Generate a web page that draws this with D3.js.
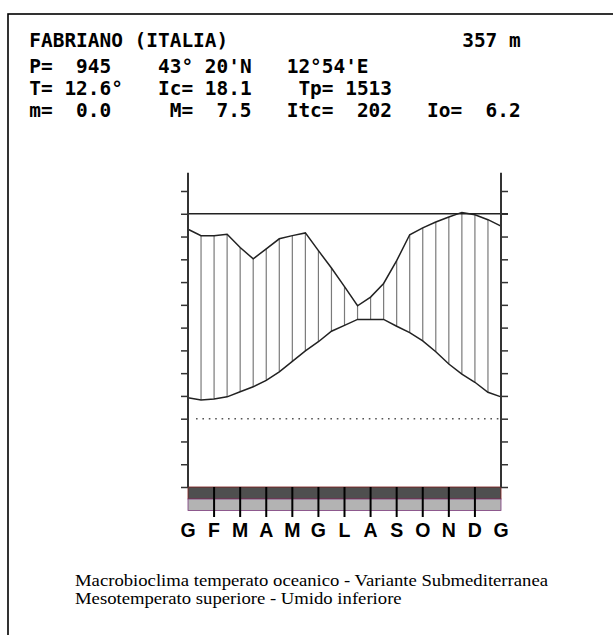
<!DOCTYPE html>
<html><head><meta charset="utf-8">
<script src="https://cdn.jsdelivr.net/npm/d3@7"></script>
<style>html,body{margin:0;padding:0;background:#fff}svg{display:block}</style>
</head><body>
<script>
// ---- data ----
const monthLabels = ["G","F","M","A","M","G","L","A","S","O","N","D","G"];
const monthTicks = [1,2,3,4,5,6,7,8,9,10,11];
// half-month sampling positions (months from start of January)
const halfMonths = [0,0.5,1,1.5,2,2.5,3,3.5,4,4.5,5,5.5,6,6.5,7,7.5,8,8.5,9,9.5,10,10.5,11,11.5,12];
// temperature curve (°C)
const temperature = [4.6,4.1,4.3,4.8,5.9,7.0,8.4,10.3,12.6,14.9,16.9,19.2,20.5,21.8,21.8,21.8,20.3,18.9,17.1,14.7,12.0,9.8,8.0,5.8,4.8];
// precipitation curve (mm, plotted at P = 2T)
const precipitation = [83.2,80.4,80.4,81.0,75.2,70.2,74.6,79.0,80.4,81.6,73.8,66.2,58.0,49.6,53.4,59.4,69.4,80.8,83.8,86.4,88.6,90.6,89.6,87.4,84.6];
const yTicks = [-15,-10,-5,0,5,10,15,20,25,30,35,40,45,50];
const refLine = 45;
const zeroLine = 0;
const axisTopValue = 54;
const headerRows = [
  [[0,"FABRIANO (ITALIA)"],[37,"357 m"]],
  [[0,"P=  945"],[11,"43° 20'N"],[22,"12°54'E"]],
  [[0,"T= 12.6°"],[11,"Ic= 18.1"],[23,"Tp= 1513"]],
  [[0,"m=  0.0"],[12,"M=  7.5"],[22,"Itc=  202"],[34,"Io=  6.2"]]
];
const footerLines = ["Macrobioclima temperato oceanico - Variante Submediterranea","Mesotemperato superiore - Umido inferiore"];

// ---- drawing ----
const W = 613, H = 635;
const svg = d3.select("body").append("svg").attr("width", W).attr("height", H);

// frame (top/left visible)
svg.append("rect").attr("x", 8).attr("y", 14).attr("width", 640).attr("height", 660)
  .attr("fill", "none").attr("stroke", "#000").attr("stroke-width", 1.6);

// header
const headerBase = [46.5, 73.3, 95, 116.7];
const colW = 11.7, x0 = 29.3;
headerRows.forEach((row, i) => {
  row.forEach(([col, txt]) => {
    svg.append("text").attr("x", x0 + col * colW).attr("y", headerBase[i])
      .attr("font-family", "'DejaVu Sans Mono', 'Liberation Mono', monospace")
      .attr("font-weight", "bold").attr("font-size", 19.4)
      .attr("textLength", txt.length * colW).attr("lengthAdjust", "spacingAndGlyphs")
      .style("white-space", "pre").text(txt);
  });
});

const x = d3.scaleLinear().domain([0, 12]).range([188, 501]);
const yT = d3.scaleLinear().domain([-15, 50]).range([487, 191]);
const yP = d3.scaleLinear().domain([-30, 100]).range([487, 191]);

// bands
svg.append("rect").attr("x", x(0)).attr("y", 487).attr("width", x(12) - x(0)).attr("height", 12)
  .attr("fill", "#4f4f4f").attr("stroke", "#7a1a1a").attr("stroke-width", 0.8);
svg.append("rect").attr("x", x(0)).attr("y", 499).attr("width", x(12) - x(0)).attr("height", 11.5)
  .attr("fill", "#b3b3b3").attr("stroke", "#7a3a7a").attr("stroke-width", 0.8);

// month ticks
svg.selectAll("line.mt").data(monthTicks).enter().append("line")
  .attr("x1", d => x(d)).attr("x2", d => x(d)).attr("y1", 487).attr("y2", 517)
  .attr("stroke", "#000").attr("stroke-width", 2);

// month labels
svg.selectAll("text.ml").data(monthLabels).enter().append("text")
  .attr("x", (d, i) => x(i)).attr("y", 536.5).attr("text-anchor", "middle")
  .attr("font-family", "'Liberation Sans', Arial, sans-serif").attr("font-weight", "bold")
  .attr("font-size", 19.5).text(d => d);

// hatching between curves
const hatchIdx = d3.range(1, halfMonths.length - 1);
svg.selectAll("line.h").data(hatchIdx).enter().append("line")
  .attr("x1", i => x(halfMonths[i])).attr("x2", i => x(halfMonths[i]))
  .attr("y1", i => yP(precipitation[i])).attr("y2", i => yT(temperature[i]))
  .attr("stroke", "#7a7a7a").attr("stroke-width", 1.2);

// reference line and zero line
svg.append("line").attr("x1", x(0)).attr("x2", x(12) + 7).attr("y1", yT(refLine)).attr("y2", yT(refLine))
  .attr("stroke", "#222").attr("stroke-width", 1.5);
svg.append("line").attr("x1", x(0) + 8).attr("x2", x(12) - 2).attr("y1", yT(zeroLine)).attr("y2", yT(zeroLine))
  .attr("stroke", "#555").attr("stroke-width", 1.6).attr("stroke-dasharray", "1.6,4.8");

// curves
const lineT = d3.line().x((d, i) => x(halfMonths[i])).y(d => yT(d));
const lineP = d3.line().x((d, i) => x(halfMonths[i])).y(d => yP(d));
svg.append("path").attr("d", lineT(temperature)).attr("fill", "none").attr("stroke", "#222").attr("stroke-width", 1.5);
svg.append("path").attr("d", lineP(precipitation)).attr("fill", "none").attr("stroke", "#222").attr("stroke-width", 1.5);

// axes
const gl = svg.append("g").attr("transform", `translate(${x(0)},0)`)
  .call(d3.axisLeft(yT).tickValues(yTicks).tickSize(7).tickSizeOuter(0).tickFormat(""));
const gr = svg.append("g").attr("transform", `translate(${x(12)},0)`)
  .call(d3.axisRight(yT).tickValues(yTicks).tickSize(7).tickSizeOuter(0).tickFormat(""));
[gl, gr].forEach(g => {
  g.select(".domain").remove();
  g.selectAll(".tick line").attr("stroke", "#333").attr("stroke-width", 1.5);
});
[x(0), x(12)].forEach(px => {
  svg.append("line").attr("x1", px).attr("x2", px).attr("y1", yT(-15)).attr("y2", yT(axisTopValue))
    .attr("stroke", "#333").attr("stroke-width", 2);
});

// footer
const fb = [585.5, 603.5];
const footFs = 16;
const els = footerLines.map((t, i) => svg.append("text").attr("x", 75).attr("y", fb[i])
  .attr("font-family", "'Liberation Serif', 'Times New Roman', serif").attr("font-size", footFs).text(t));
const ratio = 473 / els[0].node().getComputedTextLength();
els.forEach(el => {
  const w = el.node().getComputedTextLength();
  el.attr("textLength", w * ratio).attr("lengthAdjust", "spacingAndGlyphs");
});
</script>
</body></html>
